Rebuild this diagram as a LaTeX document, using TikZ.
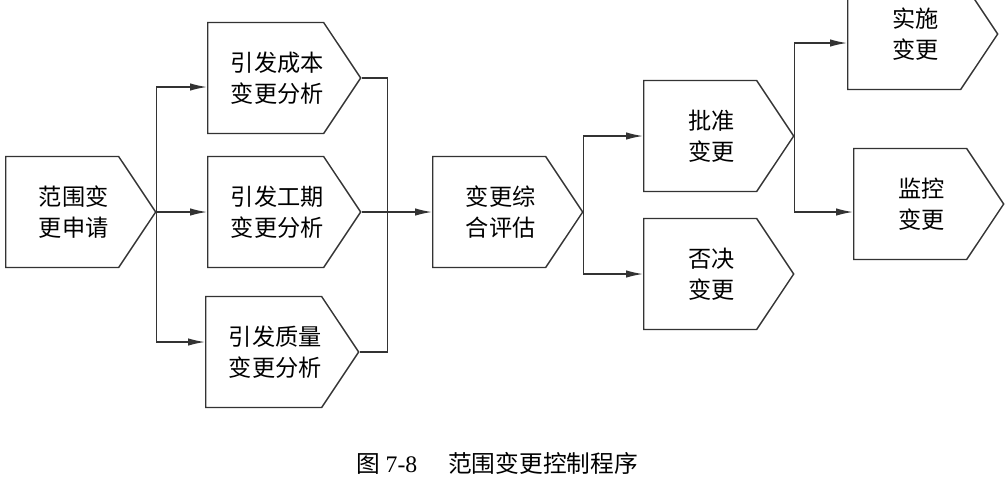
\documentclass[tikz,border=0pt]{standalone}
\usepackage{fontspec}
\setmainfont{Liberation Serif}
\newfontfamily\cjk{Noto Sans CJK SC}
\usetikzlibrary{shapes.symbols,arrows.meta,calc}

% two lines, set a little right of the box centre
\newcommand{\flowtext}[2]{\hspace*{1em}#1\\\hspace*{1em}#2}

\tikzset{
  flow/.style={signal, signal to=east, signal pointer angle=112.6,
    draw=black!80, line width=0.8pt, minimum width=3cm, minimum height=2.22cm,
    inner sep=0pt, align=center, font=\cjk\fontsize{13.2}{17.5}\selectfont},
  flowline/.style={draw=black!80, line width=0.8pt},
  flowarrow/.style={flowline, -{Latex[length=3.4mm,width=1.5mm]}},
}

\begin{document}
\begin{tikzpicture}[x=0.02cm,y=-0.02cm]
\useasboundingbox (0,0) rectangle (1005,485);
\clip (0,0) rectangle (1005,485);

% request
\node[flow,anchor=west] (req) at (5,212) {\flowtext{范围变}{更申请}};

% three analyses
\node[flow,anchor=west] (cost) at (207,78) {\flowtext{引发成本}{变更分析}};
\node[flow,anchor=west] (time) at (207,212) {\flowtext{引发工期}{变更分析}};
\node[flow,anchor=west] (qual) at (205,352) {\flowtext{引发质量}{变更分析}};

% evaluation and decision
\node[flow,anchor=west] (eval) at (432,212) {\flowtext{变更综}{合评估}};
\node[flow,anchor=west] (ok) at (643,136) {\flowtext{批准}{变更}};
\node[flow,anchor=west] (no) at (643,274) {\flowtext{否决}{变更}};
\node[flow,anchor=west] (do) at (847,34) {\flowtext{实施}{变更}};
\node[flow,anchor=west] (mon) at (853,204) {\flowtext{监控}{变更}};

\draw[flowarrow] (req.east) |- ([yshift=-0.18cm]cost.west);
\draw[flowarrow] (req.east) -- (time.west);
\draw[flowarrow] (req.east) |- ([yshift=0.2cm]qual.west);

\coordinate (merge) at ($(time.east)+(26,0)$);
\draw[flowline] (cost.east) -| (merge) |- (qual.east);
\draw[flowarrow] (time.east) -- (eval.west);

\draw[flowarrow] (eval.east) |- (ok.west);
\draw[flowarrow] (eval.east) |- (no.west);
\draw[flowarrow] (ok.east) |- ([yshift=-0.18cm]do.west);
\draw[flowarrow] (ok.east) |- ([yshift=-0.16cm]mon.west);

% caption
\node (cap) at (497,463) {\fontsize{13.5}{15}\selectfont{\cjk 图} 7-8\hspace{1.3em}{\cjk 范围变更控制程序}};
\end{tikzpicture}
\end{document}
